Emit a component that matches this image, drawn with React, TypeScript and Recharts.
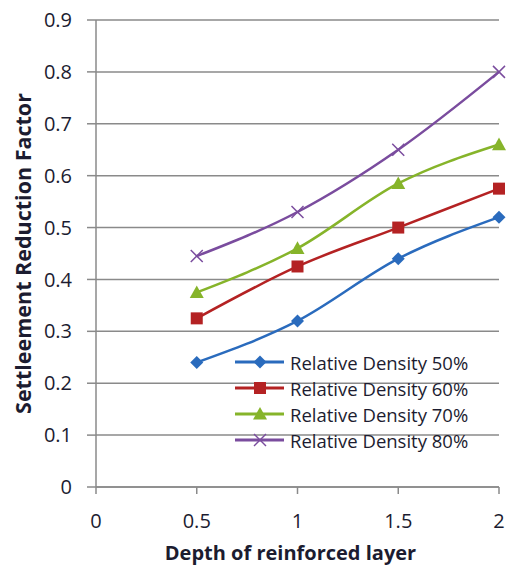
import React from 'react'
import { LineChart, Line, XAxis, YAxis, CartesianGrid, Label } from 'recharts'

const depths = [0.5, 1, 1.5, 2]
const density50 = [0.24, 0.32, 0.44, 0.52]
const density60 = [0.325, 0.425, 0.5, 0.575]
const density70 = [0.375, 0.46, 0.585, 0.66]
const density80 = [0.445, 0.53, 0.65, 0.8]
const xTicks = [0, 0.5, 1, 1.5, 2]
const yTicks = [0, 0.1, 0.2, 0.3, 0.4, 0.5, 0.6, 0.7, 0.8, 0.9]

const data = depths.map((d, i) => ({
  depth: d,
  rd50: density50[i],
  rd60: density60[i],
  rd70: density70[i],
  rd80: density80[i],
}))

type Shape = 'diamond' | 'square' | 'triangle' | 'cross'

const series: { key: string; name: string; color: string; shape: Shape }[] = [
  { key: 'rd50', name: 'Relative Density 50%', color: '#2a6bbd', shape: 'diamond' },
  { key: 'rd60', name: 'Relative Density 60%', color: '#b42223', shape: 'square' },
  { key: 'rd70', name: 'Relative Density 70%', color: '#86b42a', shape: 'triangle' },
  { key: 'rd80', name: 'Relative Density 80%', color: '#7a4c9e', shape: 'cross' },
]

const FONT = '"Open Sans", "Liberation Sans", sans-serif'
const TEXT = '#1c1c30'
const GRID = '#8a8a8a'

const Marker = ({ shape, color, cx, cy }: { shape: Shape; color: string; cx: number; cy: number }) => {
  if (cx == null || cy == null) return null
  if (shape === 'diamond') {
    const r = 6.5
    return <polygon points={`${cx},${cy - r} ${cx + r},${cy} ${cx},${cy + r} ${cx - r},${cy}`} fill={color} />
  }
  if (shape === 'square') {
    const r = 6
    return <rect x={cx - r} y={cy - r} width={r * 2} height={r * 2} fill={color} />
  }
  if (shape === 'triangle') {
    const r = 7
    return <polygon points={`${cx},${cy - r} ${cx + r},${cy + r * 0.8} ${cx - r},${cy + r * 0.8}`} fill={color} />
  }
  const r = 6
  return (
    <g stroke={color} strokeWidth={1.5}>
      <line x1={cx - r} y1={cy - r} x2={cx + r} y2={cy + r} />
      <line x1={cx - r} y1={cy + r} x2={cx + r} y2={cy - r} />
    </g>
  )
}

// legend sits inside the plot, lower right, no box
const LegendBox = () => (
  <div style={{ position: 'absolute', left: 235, top: 349, fontFamily: FONT, fontSize: 18.5, color: TEXT }}>
    {series.map(s => (
      <div key={s.key} style={{ display: 'flex', alignItems: 'center', height: 26 }}>
        <svg width={50} height={20} style={{ display: 'block' }}>
          <line x1={0} y1={10} x2={49} y2={10} stroke={s.color} strokeWidth={3} />
          <Marker shape={s.shape} color={s.color} cx={25} cy={10} />
        </svg>
        <span style={{ marginLeft: 5 }}>{s.name}</span>
      </div>
    ))}
  </div>
)

const App = () => {
  return (
    <div style={{ position: 'absolute', left: 0, top: 0, width: 507, height: 568, background: '#fff' }}>
      <LineChart width={507} height={568} data={data} margin={{ top: 20, right: 8, left: 0, bottom: 0 }}>
        <CartesianGrid vertical={false} stroke={GRID} strokeWidth={1.5} />
        <XAxis
          dataKey="depth"
          type="number"
          domain={[0, 2]}
          ticks={xTicks}
          height={81}
          stroke={GRID}
          strokeWidth={1.5}
          tickSize={7}
          tickMargin={20}
          tick={{ fill: TEXT, fontSize: 20, fontFamily: FONT }}
        >
          <Label
            content={(props: any) => {
              const vb = props.viewBox
              return (
                <text
                  x={vb.x + vb.width / 2 - 7}
                  y={560}
                  textAnchor="middle"
                  fill={TEXT}
                  fontFamily={FONT}
                  fontWeight="bold"
                  fontSize={20}
                >
                  Depth of reinforced layer
                </text>
              )
            }}
          />
        </XAxis>
        <YAxis
          type="number"
          domain={[0, 0.9]}
          ticks={yTicks}
          width={96}
          stroke={GRID}
          strokeWidth={1.5}
          tickSize={9}
          tickMargin={15}
          tick={{ fill: TEXT, fontSize: 20, fontFamily: FONT }}
        >
          <Label
            content={(props: any) => {
              const vb = props.viewBox
              const cy = vb.y + vb.height / 2
              return (
                <text
                  x={31}
                  y={cy}
                  transform={`rotate(-90, 31, ${cy})`}
                  textAnchor="middle"
                  fill={TEXT}
                  fontFamily={FONT}
                  fontWeight="bold"
                  fontSize={21.5}
                >
                  Settleement Reduction Factor
                </text>
              )
            }}
          />
        </YAxis>
        {series.map(s => (
          <Line
            key={s.key}
            dataKey={s.key}
            name={s.name}
            type="monotone"
            stroke={s.color}
            strokeWidth={2.5}
            isAnimationActive={false}
            dot={(p: any) => <Marker key={`${s.key}-${p.index}`} shape={s.shape} color={s.color} cx={p.cx} cy={p.cy} />}
            activeDot={false}
          />
        ))}
      </LineChart>
      <LegendBox />
    </div>
  )
}

export default App
